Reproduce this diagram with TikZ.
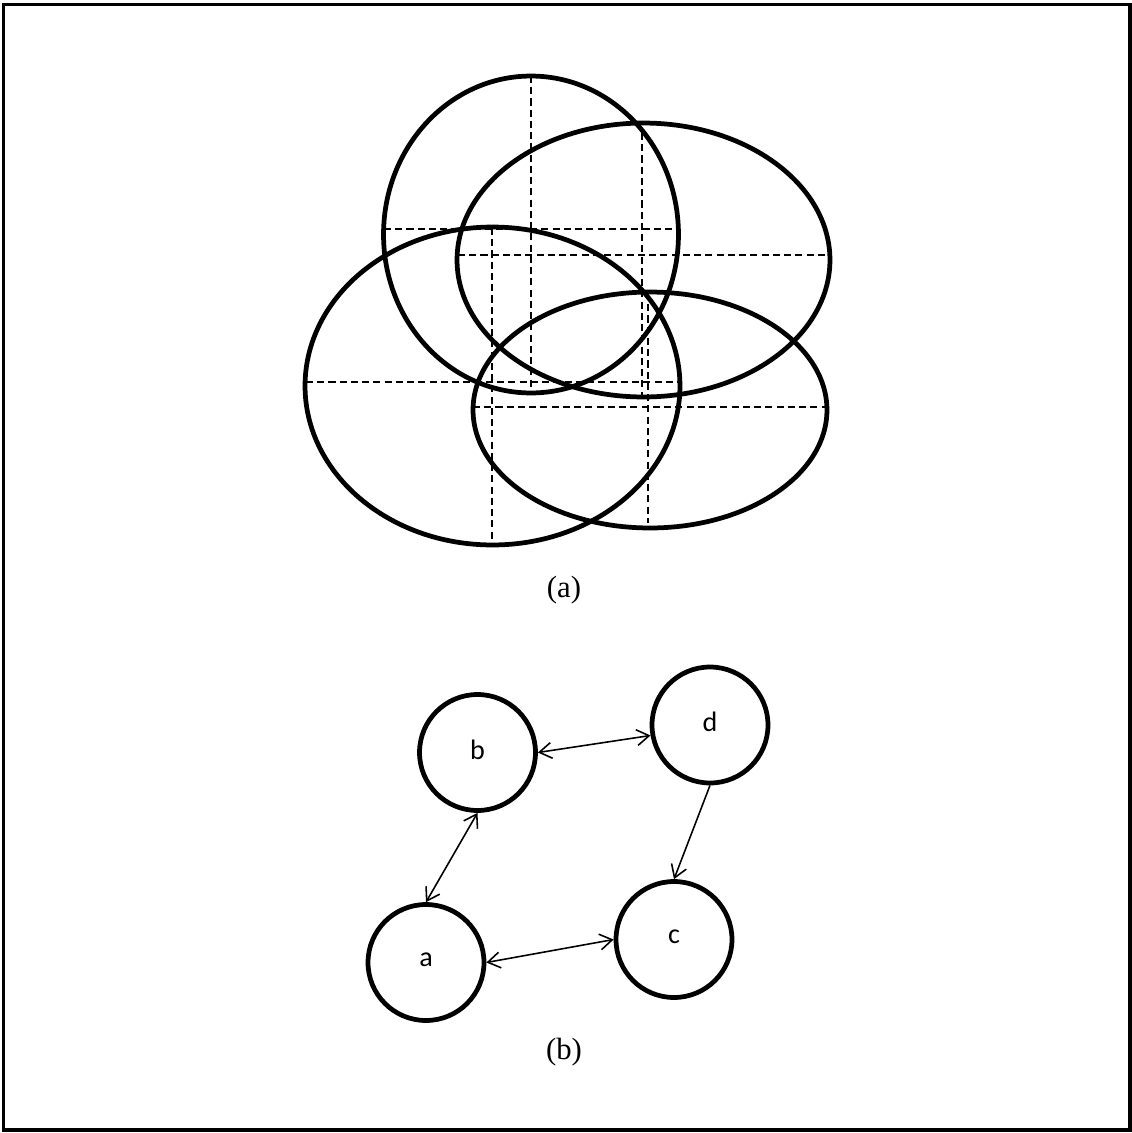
\documentclass[tikz,border=0pt]{standalone}
\usepackage{fontspec}
\setmainfont{Liberation Serif}
\newfontfamily\labelfont{Carlito}
\usetikzlibrary{arrows.meta}
\tikzset{
	venn/.style = {line width = 2.7pt},
	axis/.style = {line width = 0.75pt, dash pattern = on 4pt off 2.4pt},
	vertex/.style = {circle, draw, line width = 2.7pt, minimum size = 2.32cm, inner sep = 0pt, font = \labelfont\fontsize{16}{19}\selectfont},
	link/.style = {line width = 0.9pt, {Straight Barb[length=7pt,width=9pt]}-{Straight Barb[length=7pt,width=9pt]}},
	onelink/.style = {line width = 0.9pt, -{Straight Barb[length=7pt,width=9pt]}}
}
\begin{document}
\begin{tikzpicture} [x = 0.02cm, y = -0.02cm]
	\useasboundingbox (0,0) rectangle (1132,1133);
	\draw [line width = 2.2pt] (3.5,4.5) rectangle (1130,1130);
	% (a) four ellipses with their axes
	\draw [venn] (531,234.5) ellipse (2.95cm and 3.17cm);
	\draw [venn] (643.5,260) ellipse (3.73cm and 2.74cm);
	\draw [venn] (492.5,386) ellipse (3.75cm and 3.18cm);
	\draw [venn] (650,410) ellipse (3.54cm and 2.36cm);
	\draw [axis] (531,76) -- (531,390);
	\draw [axis] (384,229) -- (672,229);
	\draw [axis] (642,133) -- (642,397);
	\draw [axis] (458,255) -- (830,255);
	\draw [axis] (492,228) -- (492,545);
	\draw [axis] (306,382) -- (678,382);
	\draw [axis] (648,293) -- (648,523);
	\draw [axis] (473,407) -- (827,407);
	\draw (564,590) node [font = \fontsize{17.5}{21}\selectfont] {(a)};
	% (b) graph
	\node [vertex] (b) at (477.5,752.5) {\raisebox{0.12cm}{b}};
	\node [vertex] (d) at (710,725) {\raisebox{0.12cm}{d}};
	\node [vertex] (a) at (426,962.5) {\raisebox{0.12cm}{a}};
	\node [vertex] (c) at (674,939.5) {\raisebox{0.12cm}{c}};
	\draw [link] (b.east) -- (d.190);
	\draw [link] (b.south) -- (a.north);
	\draw [link] (a.east) -- (c.west);
	\draw [onelink] (d.south) -- (c.north);
	\draw (564,1052) node [font = \fontsize{17.5}{21}\selectfont] {(b)};
\end{tikzpicture}
\end{document}
